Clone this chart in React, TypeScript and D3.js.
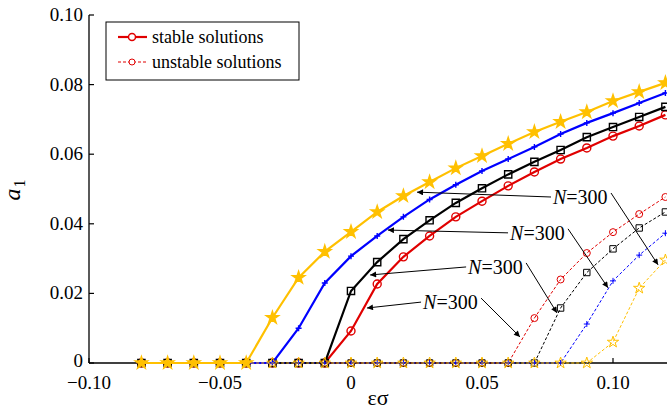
import React from "react";
import * as d3 from "d3";

// epsilon*sigma sample points
const eps = [-0.08, -0.07, -0.06, -0.05, -0.04, -0.03, -0.02, -0.01, 0, 0.01, 0.02, 0.03, 0.04, 0.05, 0.06, 0.07, 0.08, 0.09, 0.1, 0.11, 0.12];

// stable branches
const redStable = [0, 0, 0, 0, 0, 0, 0, 0, 0.0092, 0.0227, 0.0305, 0.0365, 0.042, 0.0465, 0.0509, 0.0549, 0.0586, 0.0618, 0.0652, 0.0681, 0.0713];
const blackStable = [0, 0, 0, 0, 0, 0, 0, 0, 0.0207, 0.029, 0.0356, 0.041, 0.046, 0.0502, 0.0542, 0.0578, 0.0612, 0.0649, 0.0678, 0.0707, 0.0736];
const blueStable = [0, 0, 0, 0, 0, 0, 0.01, 0.023, 0.0307, 0.0365, 0.042, 0.047, 0.0512, 0.0552, 0.0586, 0.0621, 0.0658, 0.069, 0.0718, 0.0747, 0.0776];
const yellowStable = [0, 0, 0, 0, 0, 0.013, 0.0245, 0.032, 0.0377, 0.0434, 0.048, 0.052, 0.056, 0.0595, 0.063, 0.0664, 0.0693, 0.0721, 0.0753, 0.0779, 0.0805];

// unstable branches (null = not computed)
const redUnstable = [null, null, null, null, null, null, null, 0, 0, 0, 0, 0, 0, 0, 0, 0.0129, 0.024, 0.0316, 0.0376, 0.0428, 0.0477];
const blackUnstable = [null, null, null, null, null, null, null, 0, 0, 0, 0, 0, 0, 0, 0, 0, 0.0158, 0.026, 0.0328, 0.0388, 0.0434];
const blueUnstable = [null, null, null, null, null, 0, 0, 0, 0, 0, 0, 0, 0, 0, 0, 0, 0, 0.0112, 0.0236, 0.031, 0.0373];
const yellowUnstable = [null, null, null, null, 0, 0, 0, 0, 0, 0, 0, 0, 0, 0, 0, 0, 0, 0, 0.006, 0.0215, 0.0296];

const xTicks = [-0.1, -0.05, 0, 0.05, 0.1];
const yTicks = [0, 0.02, 0.04, 0.06, 0.08, 0.1];

// "N=300" annotations: text position, left arrow target, right arrow target (data units)
const annText = [[0.0771, 0.0477], [0.0607, 0.0374], [0.0447, 0.0276], [0.0275, 0.0175]];
const annLeft = [[0.0252, 0.0491], [0.0141, 0.0382], [0.0073, 0.0253], [0.0061, 0.0158]];
const annRight = [[0.1172, 0.0282], [0.0981, 0.0216], [0.0786, 0.0144], [0.0645, 0.0075]];

const W = 667, H = 413;
const FONT = "Liberation Serif";
const ANN_W = 56;

const x = d3.scaleLinear().domain([-0.1, 0.122]).range([89, 89 + 0.222 * 2620]);
const y = d3.scaleLinear().domain([0, 0.1]).range([363, 15]);
const fmt = (d: number) => (d === 0 ? "0" : d3.format(".2f")(d));

const line = d3.line<[number, number | null]>()
  .defined(d => d[1] !== null)
  .x(d => x(d[0]))
  .y(d => y(d[1] as number));

const starPath = (s: number) => d3.symbol(d3.symbolStar, s)() as string;
const markers: Record<string, (big: boolean) => string> = {
  circle: b => { const r = b ? 4 : 3.5; return `M${r},0A${r},${r} 0 1,1 ${-r},0A${r},${r} 0 1,1 ${r},0Z`; },
  square: b => { const h = b ? 3.6 : 3.2; return `M${-h},${-h}H${h}V${h}H${-h}Z`; },
  plus: () => "M-3,0H3M0,-3V3",
  star: b => starPath(b ? 48 : 40),
};

const series = [
  { color: "#e00000", mk: "circle", stable: redStable, unstable: redUnstable },
  { color: "#000000", mk: "square", stable: blackStable, unstable: blackUnstable },
  { color: "#0000ff", mk: "plus", stable: blueStable, unstable: blueUnstable },
  { color: "#ffc000", mk: "star", stable: yellowStable, unstable: yellowUnstable },
];

function Series({ vals, color, mk, stable }: { vals: (number | null)[]; color: string; mk: string; stable: boolean }) {
  const pts = eps.map((e, i) => [e, vals[i]] as [number, number | null]);
  const filled = stable && mk === "star";
  return (
    <g>
      <path d={line(pts) as string} fill="none" stroke={color}
        strokeWidth={stable ? 2.2 : 1} strokeDasharray={stable ? undefined : "3,2"} />
      {pts.filter(p => p[1] !== null).map((p, i) => (
        <path key={i} transform={`translate(${x(p[0])},${y(p[1] as number)})`}
          d={markers[mk](stable)} fill={filled ? color : "none"} stroke={color}
          strokeWidth={stable ? 1.4 : 1} />
      ))}
    </g>
  );
}

export default function App() {
  return (
    <svg width={W} height={H}
      style={{ position: "absolute", left: 0, top: 0, background: "#fff", fontFamily: FONT }}>
      <defs>
        <marker id="arr" viewBox="0 0 10 10" refX={10} refY={5} markerWidth={9} markerHeight={6}
          markerUnits="userSpaceOnUse" orient="auto">
          <path d="M0,0L10,5L0,10z" fill="#000" />
        </marker>
      </defs>

      {/* axes */}
      <line x1={89} x2={89} y1={y(0.1)} y2={y(0)} stroke="#000" strokeWidth={1.3} />
      <line x1={89} x2={W} y1={y(0)} y2={y(0)} stroke="#000" strokeWidth={1.3} />
      {yTicks.map(t => (
        <g key={"y" + t}>
          <line x1={89} x2={94} y1={y(t)} y2={y(t)} stroke="#000" strokeWidth={1.2} />
          <text x={83} y={y(t) + (t === 0 ? 4 : 6)} textAnchor="end" fontSize={19}>{fmt(t)}</text>
        </g>
      ))}
      {xTicks.map(t => (
        <g key={"x" + t}>
          <line x1={x(t)} x2={x(t)} y1={y(0)} y2={y(0) - 5} stroke="#000" strokeWidth={1.2} />
          <text x={x(t)} y={y(0) + 26} textAnchor="middle" fontSize={19}>{fmt(t)}</text>
        </g>
      ))}
      <text x={378} y={405} textAnchor="middle" fontSize={22}>εσ</text>
      <text transform="translate(20,190) rotate(-90)" textAnchor="middle" fontSize={24}>
        <tspan fontStyle="italic">a</tspan>
        <tspan fontSize={16} dy={5} dx={1}>1</tspan>
      </text>

      {/* curves */}
      {series.map(s => <Series key={"s" + s.color} vals={s.stable} color={s.color} mk={s.mk} stable />)}
      {series.map(s => <Series key={"u" + s.color} vals={s.unstable} color={s.color} mk={s.mk} stable={false} />)}

      {/* annotations */}
      {annText.map((t, i) => {
        const tx = x(t[0]), ty = y(t[1]);
        return (
          <g key={"a" + i}>
            <text x={tx} y={ty + 7} fontSize={20}>
              <tspan fontStyle="italic">N</tspan>
              <tspan>=300</tspan>
            </text>
            <line x1={tx - 2} y1={ty} x2={x(annLeft[i][0])} y2={y(annLeft[i][1])}
              stroke="#000" strokeWidth={1} markerEnd="url(#arr)" />
            <line x1={tx + ANN_W + 2} y1={ty - 4} x2={x(annRight[i][0])} y2={y(annRight[i][1])}
              stroke="#000" strokeWidth={1} markerEnd="url(#arr)" />
          </g>
        );
      })}

      {/* legend */}
      <rect x={106} y={22} width={193} height={58} fill="#fff" stroke="#000" strokeWidth={1} />
      {[{ ly: 37, st: true, label: "stable solutions" }, { ly: 62, st: false, label: "unstable solutions" }].map(o => (
        <g key={o.label}>
          <line x1={118} x2={147} y1={o.ly} y2={o.ly} stroke="#e00000" strokeWidth={o.st ? 2.2 : 1}
            strokeDasharray={o.st ? undefined : "3,2"} />
          <circle cx={132} cy={o.ly} r={o.st ? 3.5 : 3} fill="#fff" stroke="#e00000" strokeWidth={o.st ? 1.5 : 1} />
          <text x={152} y={o.ly + 6} fontSize={18}>{o.label}</text>
        </g>
      ))}
    </svg>
  );
}
